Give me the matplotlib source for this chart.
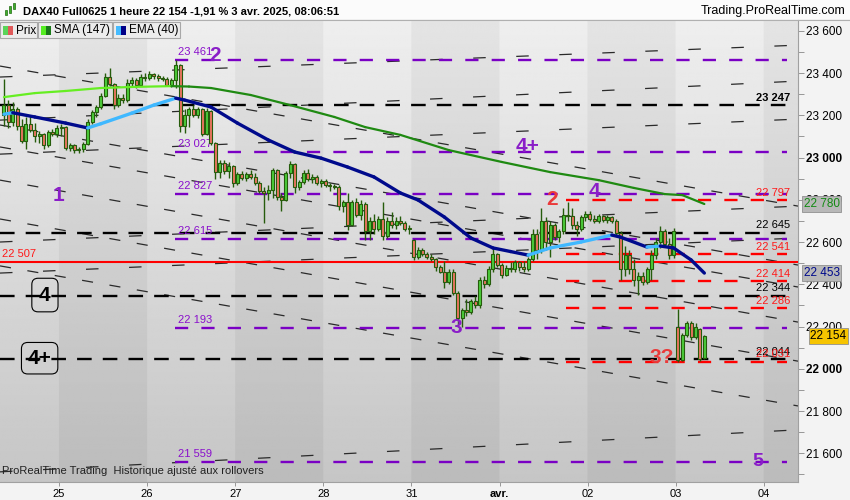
import matplotlib
matplotlib.use("Agg")
import matplotlib.pyplot as plt
import numpy as np
from matplotlib.patches import Rectangle
from matplotlib.lines import Line2D

plt.rcParams['font.family'] = ['Liberation Sans', 'DejaVu Sans']
plt.rcParams['lines.scale_dashes'] = False

# ---- data (hourly bars, index 0 = first bar of 25 March) ----
first_bar = -13
bars_per_day = 20
opens = [23200, 23250, 23170, 23230, 23150, 23080, 23160, 23130, 23100, 23110, 23060, 23120, 23110,
         23140, 23145, 23045, 23060, 23035, 23040, 23065, 23170, 23215, 23240, 23290, 23380, 23350, 23250,
         23280, 23270, 23355, 23365, 23345, 23380,
         23375, 23395, 23385, 23375, 23370, 23345, 23365, 23440, 23150, 23200, 23230, 23200, 23230, 23110,
         23220, 23070, 22930, 22975, 22935, 22960,
         22880, 22920, 22905, 22920, 22910, 22880, 22840, 22830, 22845, 22940, 22815, 22800, 22925, 22970,
         22860, 22885, 22925, 22900, 22910, 22880,
         22890, 22870, 22865, 22860, 22770, 22790, 22680, 22790, 22730, 22780, 22650, 22700, 22660, 22710,
         22630, 22700, 22680, 22700, 22690, 22660,
         22610, 22530, 22560, 22545, 22530, 22520, 22480, 22460, 22410, 22460, 22360, 22240, 22280, 22270,
         22320, 22300, 22420, 22400, 22470, 22545,
         22490, 22445, 22475, 22470, 22505, 22480, 22470, 22520, 22640, 22560, 22700, 22600, 22680, 22625,
         22650, 22730, 22725, 22680, 22660, 22720,
         22735, 22710, 22700, 22725, 22705, 22720, 22700, 22645, 22470, 22540, 22470, 22420, 22440, 22410,
         22470, 22540, 22600, 22650, 22590, 22540,
         22200, 22040, 22160, 22215, 22150, 22190, 22050]
highs = [23370, 23270, 23265, 23240, 23180, 23190, 23200, 23165, 23125, 23115, 23130, 23135, 23155,
         23160, 23150, 23070, 23065, 23050, 23075, 23180, 23225, 23250, 23305, 23400, 23425, 23355, 23300,
         23300, 23370, 23380, 23375, 23395, 23400,
         23410, 23400, 23395, 23385, 23380, 23375, 23461, 23445, 23230, 23240, 23250, 23240, 23235, 23235,
         23225, 23075, 22990, 22990, 22980, 22965,
         22930, 22935, 22930, 22940, 22925, 22890, 22860, 22870, 22950, 22945, 22830, 22935, 22985, 22975,
         22895, 22940, 22945, 22920, 22915, 22900,
         22900, 22880, 22875, 22870, 22800, 22830, 22800, 22810, 22800, 22790, 22720, 22735, 22725, 22790,
         22720, 22740, 22720, 22725, 22700, 22680,
         22615, 22575, 22570, 22555, 22545, 22525, 22490, 22510, 22470, 22470, 22370, 22290, 22330, 22330,
         22345, 22435, 22440, 22485, 22570, 22550,
         22500, 22490, 22505, 22515, 22510, 22510, 22530, 22660, 22660, 22760, 22720, 22700, 22690, 22660,
         22760, 22790, 22760, 22700, 22730, 22745,
         22745, 22730, 22735, 22730, 22730, 22725, 22710, 22650, 22580, 22560, 22520, 22460, 22460, 22480,
         22560, 22620, 22675, 22660, 22620, 22665,
         22282, 22170, 22225, 22225, 22215, 22195, 22160]
lows = [23150, 23140, 23150, 23130, 23070, 23040, 23120, 23075, 23070, 23040, 23050, 23100, 23095,
        23100, 23035, 23030, 23020, 23020, 23025, 23060, 23160, 23190, 23230, 23285, 23340, 23230, 23240,
        23260, 23265, 23335, 23330, 23340, 23360,
        23365, 23370, 23360, 23360, 23340, 23335, 23330, 23120, 23115, 23145, 23190, 23185, 23100, 23105,
        23060, 22900, 22905, 22920, 22905, 22860,
        22870, 22895, 22890, 22900, 22870, 22830, 22690, 22800, 22810, 22800, 22745, 22795, 22905, 22830,
        22845, 22875, 22890, 22880, 22870, 22860,
        22860, 22840, 22850, 22750, 22740, 22655, 22675, 22720, 22705, 22610, 22610, 22640, 22650, 22610,
        22620, 22665, 22660, 22680, 22650, 22640,
        22515, 22520, 22535, 22520, 22510, 22465, 22455, 22380, 22400, 22350, 22198, 22200, 22250, 22260,
        22290, 22290, 22380, 22390, 22460, 22480,
        22430, 22440, 22460, 22460, 22465, 22460, 22465, 22510, 22520, 22550, 22560, 22530, 22610, 22600,
        22640, 22700, 22660, 22630, 22650, 22700,
        22700, 22690, 22690, 22695, 22690, 22690, 22630, 22420, 22440, 22450, 22390, 22350, 22395, 22400,
        22420, 22520, 22570, 22580, 22520, 22525,
        22031, 22035, 22150, 22135, 22140, 22035, 22045]
closes = [23250, 23170, 23230, 23150, 23080, 23160, 23130, 23100, 23110, 23060, 23120, 23110, 23140,
          23145, 23045, 23060, 23035, 23040, 23065, 23170, 23215, 23240, 23290, 23380, 23350, 23250, 23280,
          23270, 23355, 23365, 23345, 23380, 23375,
          23395, 23385, 23375, 23370, 23345, 23365, 23440, 23150, 23200, 23230, 23200, 23230, 23110, 23220,
          23070, 22930, 22975, 22935, 22960, 22880,
          22920, 22905, 22920, 22910, 22880, 22840, 22830, 22845, 22940, 22815, 22800, 22925, 22970, 22860,
          22885, 22925, 22900, 22910, 22880, 22890,
          22870, 22865, 22860, 22770, 22790, 22680, 22790, 22730, 22780, 22650, 22700, 22660, 22710, 22630,
          22700, 22680, 22700, 22690, 22660, 22665,
          22530, 22560, 22545, 22530, 22520, 22480, 22460, 22410, 22460, 22360, 22240, 22280, 22270, 22320,
          22300, 22420, 22400, 22470, 22545, 22490,
          22445, 22475, 22470, 22505, 22480, 22470, 22520, 22640, 22560, 22700, 22600, 22680, 22625, 22650,
          22730, 22725, 22680, 22660, 22720, 22735,
          22710, 22700, 22725, 22705, 22720, 22700, 22645, 22470, 22540, 22470, 22420, 22440, 22410, 22470,
          22540, 22600, 22650, 22590, 22540, 22650,
          22040, 22160, 22215, 22150, 22200, 22045, 22154]

day_labels = ['25', '26', '27', '28', '31', 'avr.', '02', '03', '04']

sma_idx = [-13, -6, 1, 9, 16, 25, 29, 34, 43, 52, 62, 69, 77, 88, 100, 111, 122, 130, 137, 141, 146]
sma_val = [23286, 23305, 23315, 23329, 23334, 23338, 23336, 23329, 23296, 23248, 23192, 23144, 23107,
           23035, 22979, 22931, 22893, 22856, 22827, 22822, 22780]
ema_idx = [-13, -11, -6, 1, 6, 9, 16, 21, 26, 28, 34, 40, 47, 53, 59, 65, 71, 77, 81, 87, 93, 98, 102,
           106, 111, 118, 125, 127, 133, 136, 139, 143, 146]
ema_val = [23205, 23212, 23192, 23163, 23140, 23160, 23210, 23248, 23281, 23272, 23239, 23163, 23083,
           23026, 22997, 22955, 22908, 22832, 22799, 22718, 22619, 22572, 22555, 22538, 22572, 22600,
           22633, 22623, 22576, 22581, 22572, 22515, 22453]

purple_levels = [23461, 23027, 22827, 22615, 22193, 21559]
black_levels = [23247, 22645, 22344, 22044]
red_levels = [22797, 22541, 22414, 22286, 22031]
red_solid = 22507

# dashed trend lines: price at the left and right edge of the chart
desc_left = [23433, 23154, 23050, 22893, 22709, 22487]
desc_right = [22770, 22491, 22387, 22221, 22036, 21824]
rise_left = [23381, 23177, 23016, 22600, 22453, 21512]
rise_right = [23532, 23362, 23182, 22770, 22619, 21711]

last_price = 22154
sma_last = 22780
ema_last = 22453


def fmt(v):
    return f"{v:,}".replace(",", " ")


xmin, xmax = -0.67, 8.388
ymin, ymax = 21464, 23651
purple_start = 1.317
red_start = 5.755
level_end = 8.263
label_x = 8.297

fig = plt.figure(figsize=(8.5, 5), dpi=100)
fig.patch.set_facecolor('#f3f3f3')
ax = fig.add_axes([0, 18 / 500, 798 / 850, 462 / 500])

# background day bands with vertical gradient
gx = np.linspace(xmin, xmax, 906)
dark = (np.floor(gx) % 2 == 0)
t = np.linspace(0, 1, 200)[:, None]
light_col = 0.935 - 0.16 * t
img = np.where(dark[None, :], light_col - 0.04, light_col)
ax.imshow(img, cmap='gray', vmin=0, vmax=1, extent=(xmin, xmax, ymin, ymax),
          aspect='auto', origin='upper', interpolation='bilinear', zorder=0)

# thin dashed trend lines
for a, b in zip(desc_left, desc_right):
    ax.plot([xmin, xmax], [a, b], color='#2a2a2a', lw=0.9, dashes=(8, 12), zorder=2)
for a, b in zip(rise_left, rise_right):
    ax.plot([xmin, xmax], [a, b], color='#2a2a2a', lw=0.9, dashes=(9, 22), zorder=2)

# horizontal levels
for lv in purple_levels:
    ax.plot([purple_start, level_end], [lv, lv], color='#7a00c4', lw=1.7, dashes=(9.5, 9.5), zorder=3)
    ax.annotate(fmt(lv), (purple_start + 0.03, lv), xytext=(0, 2), textcoords='offset points',
                fontsize=8, color='#8a10cc', ha='left', va='bottom', zorder=4)
for lv in black_levels:
    ax.plot([xmin, level_end], [lv, lv], color='black', lw=1.7, dashes=(10.5, 8), zorder=3)
for lv in red_levels:
    ax.plot([red_start, level_end], [lv, lv], color='#ff0000', lw=1.7, dashes=(9.5, 9.5), zorder=3)
ax.axhline(red_solid, color='#ff0000', lw=1.5, zorder=3)
ax.annotate(fmt(red_solid), (xmin + 0.02, red_solid), xytext=(0, 2), textcoords='offset points',
            fontsize=8, color='#ff1a1a', ha='left', va='bottom', zorder=4)

for lv in black_levels:
    ax.annotate(fmt(lv), (label_x, lv), xytext=(0, 2), textcoords='offset points', fontsize=8,
                color='black', ha='right', va='bottom', zorder=4,
                fontweight='bold' if lv == black_levels[0] else 'normal')
for lv in red_levels:
    ax.annotate(fmt(lv), (label_x, lv), xytext=(0, 2), textcoords='offset points', fontsize=8,
                color='#ff1a1a', ha='right', va='bottom', zorder=4)

# candles
o = np.array(opens)
h = np.array(highs)
lo = np.array(lows)
c = np.array(closes)
xb = (np.arange(first_bar, first_bar + len(o)) + 0.5) / bars_per_day
up = c >= o
edge = '#265c0c'
ax.vlines(xb, lo, h, color=edge, lw=1, zorder=5)
body = np.maximum(np.abs(c - o), 4)
ax.bar(xb, body, bottom=np.minimum(o, c), width=0.034,
       color=np.where(up, '#4ccc3a', '#ea7560'), edgecolor=edge, linewidth=0.8, zorder=6)


def two_tone(xs, ys, c_up, c_down, lw):
    for k in range(len(xs) - 1):
        col = c_up if ys[k + 1] >= ys[k] else c_down
        ax.plot(xs[k:k + 2], ys[k:k + 2], color=col, lw=lw, solid_capstyle='round', zorder=8)


two_tone((np.array(sma_idx) + 0.5) / bars_per_day, sma_val, '#66ee22', '#1f8a12', 1.6)
two_tone((np.array(ema_idx) + 0.5) / bars_per_day, ema_val, '#3fb8ff', '#000a8c', 2.4)

# wave annotations
purple_big = '#8a1ec8'
red_big = '#ea3a3a'
ax.text(-0.01, 22822, '1', color=purple_big, fontsize=15, fontweight='bold', ha='center', va='center', zorder=9)
ax.text(1.77, 23485, '2', color=purple_big, fontsize=15, fontweight='bold', ha='center', va='center', zorder=9)
ax.text(5.32, 23050, '4+', color=purple_big, fontsize=15, fontweight='bold', ha='center', va='center', zorder=9)
ax.text(6.08, 22837, '4', color=purple_big, fontsize=15, fontweight='bold', ha='center', va='center', zorder=9)
ax.text(5.60, 22799, '2', color=red_big, fontsize=15, fontweight='bold', ha='center', va='center', zorder=9)
ax.text(4.51, 22197, '3', color=purple_big, fontsize=15, fontweight='bold', ha='center', va='center', zorder=9)
ax.text(6.84, 22055, '3?', color=red_big, fontsize=15, fontweight='bold', ha='center', va='center', zorder=9)
ax.text(7.93, 21563, '5', color=purple_big, fontsize=14, fontweight='bold', ha='center', va='center', zorder=9)
ax.text(-0.16, 22349, '4', color='black', fontsize=15, fontweight='bold', ha='center', va='center', zorder=9,
        bbox=dict(boxstyle='round,pad=0.35,rounding_size=0.3', fc='none', ec='black', lw=0.8))
ax.text(-0.22, 22050, '4+', color='black', fontsize=15, fontweight='bold', ha='center', va='center', zorder=9,
        bbox=dict(boxstyle='round,pad=0.3,rounding_size=0.3', fc='none', ec='black', lw=0.8))

# axes
ax.set_xlim(xmin, xmax)
ax.set_ylim(ymin, ymax)
ax.yaxis.tick_right()
yt = list(range(21600, 23601, 200))
ax.set_yticks(yt)
ax.set_yticklabels([fmt(v) for v in yt])
for lab, v in zip(ax.get_yticklabels(), yt):
    if v % 1000 == 0:
        lab.set_fontweight('bold')
ax.set_yticks(list(range(21500, 23651, 100)), minor=True)
ax.tick_params(axis='y', which='both', length=4, width=0.6, color='#888888', labelsize=8.5, pad=2)
ax.set_xticks(range(len(day_labels)))
ax.set_xticklabels(day_labels)
ax.get_xticklabels()[5].set_fontweight('bold')
ax.tick_params(axis='x', length=3, width=0.6, color='#888888', labelsize=8, pad=2)
for s in ['top', 'left']:
    ax.spines[s].set_visible(False)
for s in ['right', 'bottom']:
    ax.spines[s].set_color('#a0a0a0')
    ax.spines[s].set_linewidth(0.8)

# value boxes on the price axis
for val, tc, bg, off in [(sma_last, '#138a13', '#b8b8b8', 4), (ema_last, '#000a8c', '#b8b8b8', 4),
                         (last_price, 'black', '#f6c400', 9)]:
    ax.annotate(fmt(val), xy=(1, val), xycoords=('axes fraction', 'data'), xytext=(off, 0),
                textcoords='offset points', ha='left', va='center', fontsize=8.5, color=tc,
                bbox=dict(boxstyle='square,pad=0.15', fc=bg, ec='#909090', lw=0.6),
                annotation_clip=False, zorder=20)

ax.text(0.003, 0.012, 'ProRealTime Trading  Historique ajusté aux rollovers', transform=ax.transAxes,
        fontsize=8, color='#222222', ha='left', va='bottom', zorder=9)


# header and legend (figure pixels)
def fx(px):
    return px / 850


def fy(py):
    return 1 - py / 500


fig.add_artist(Rectangle((0, fy(19)), 1, 19 / 500, transform=fig.transFigure, fc='#fbfbfb', ec='none'))
fig.add_artist(Line2D([0, 1], [fy(19.5), fy(19.5)], transform=fig.transFigure, color='#b0b0b0', lw=0.8))
for px, py, hh in [(5, 10, 5), (9, 6, 7), (13, 3, 6)]:
    fig.add_artist(Rectangle((fx(px), fy(py + hh)), 2 / 850, hh / 500, transform=fig.transFigure,
                             fc='#3fae2a', ec='#1f6a10', lw=0.5))
fig.text(fx(23), fy(11), 'DAX40 Full0625 1 heure 22 154 -1,91 % 3 avr. 2025, 08:06:51',
         fontsize=8, fontweight='bold', va='center', ha='left')
fig.text(fx(845), fy(11), 'Trading.ProRealTime.com', fontsize=9, va='center', ha='right')

legend = [(0, 37, 'Prix', '#5ad45a', '#e05a5a'),
          (38, 112, 'SMA (147)', '#55ee22', '#1a7a1a'),
          (113, 180, 'EMA (40)', '#44bbff', '#000088')]
for x0, x1, name, c1, c2 in legend:
    fig.add_artist(Rectangle((fx(x0), fy(38)), (x1 - x0) / 850, 16 / 500, transform=fig.transFigure,
                             fc='#ececec', ec='#a8a8a8', lw=0.8, zorder=30))
    fig.add_artist(Rectangle((fx(x0 + 3), fy(35)), 5 / 850, 9 / 500, transform=fig.transFigure,
                             fc=c1, ec='none', zorder=31))
    fig.add_artist(Rectangle((fx(x0 + 8), fy(35)), 5 / 850, 9 / 500, transform=fig.transFigure,
                             fc=c2, ec='none', zorder=31))
    fig.text(fx(x0 + 16), fy(30.5), name, fontsize=8.5, va='center', ha='left', zorder=32)

fig.savefig('out.png', dpi=100, facecolor=fig.get_facecolor())
